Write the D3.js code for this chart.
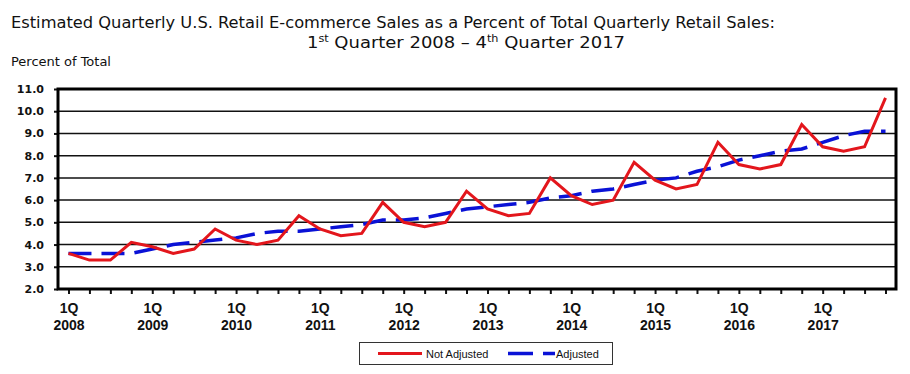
<!DOCTYPE html>
<html>
<head>
<meta charset="utf-8">
<script src="https://cdn.jsdelivr.net/npm/d3@7"></script>
<style>
  body { margin: 0; background: #fff; }
  svg { display: block; }
  .grid line { stroke: #111; stroke-width: 1.5; }
  .ytick { font-family: "DejaVu Sans", Verdana, sans-serif; font-weight: bold; font-size: 11px; fill: #111; }
  .xtick { font-family: "Liberation Sans", Arial, sans-serif; font-weight: bold; font-size: 14px; fill: #111; }
  .title { font-family: "DejaVu Sans Condensed", "DejaVu Sans", sans-serif; font-size: 16px; fill: #111; }
  .legend text { font-family: "Liberation Sans", Arial, sans-serif; font-size: 11px; fill: #111; }
</style>
</head>
<body>
<svg id="chart"></svg>
<script>
var width = 910,
    height = 374;

var years = ["2008", "2009", "2010", "2011", "2012", "2013", "2014", "2015", "2016", "2017"];
var quarters = ["1Q", "2Q", "3Q", "4Q"];

var notAdjusted = [
  3.6, 3.3, 3.3, 4.1,
  3.9, 3.6, 3.8, 4.7,
  4.2, 4.0, 4.2, 5.3,
  4.7, 4.4, 4.5, 5.9,
  5.0, 4.8, 5.0, 6.4,
  5.6, 5.3, 5.4, 7.0,
  6.2, 5.8, 6.0, 7.7,
  6.9, 6.5, 6.7, 8.6,
  7.6, 7.4, 7.6, 9.4,
  8.4, 8.2, 8.4, 10.6
];

var adjusted = [
  3.6, 3.6, 3.6, 3.6,
  3.8, 4.0, 4.1, 4.2,
  4.3, 4.5, 4.6, 4.6,
  4.7, 4.8, 4.9, 5.1,
  5.1, 5.2, 5.4, 5.6,
  5.7, 5.8, 5.9, 6.1,
  6.2, 6.4, 6.5, 6.7,
  6.9, 7.0, 7.3, 7.5,
  7.8, 8.0, 8.2, 8.3,
  8.6, 8.9, 9.1, 9.1
];

var yTicks = [2, 3, 4, 5, 6, 7, 8, 9, 10, 11];

var seriesNames = ["Not Adjusted", "Adjusted"];

// one entry per quarter
var categories = [];
years.forEach(function (yr) {
  quarters.forEach(function (q) {
    categories.push(q + " " + yr);
  });
});

var plot = {left: 58, right: 896, top: 89, bottom: 289};

var svg = d3.select("#chart")
    .attr("width", width)
    .attr("height", height);

var x = d3.scalePoint()
    .domain(categories)
    .range([plot.left, plot.right])
    .padding(0.5);

var y = d3.scaleLinear()
    .domain([2, 11])
    .range([plot.bottom, plot.top]);

// title
var t1 = svg.append("text")
    .attr("class", "title")
    .attr("x", 11)
    .attr("y", 28)
    .attr("textLength", 764)
    .attr("lengthAdjust", "spacingAndGlyphs")
    .text("Estimated Quarterly U.S. Retail E-commerce Sales as a Percent of Total Quarterly Retail Sales:");

var t2 = svg.append("text")
    .attr("class", "title")
    .attr("x", 307)
    .attr("y", 48)
    .attr("textLength", 318)
    .attr("lengthAdjust", "spacingAndGlyphs");
t2.append("tspan").text("1");
t2.append("tspan").attr("dy", -6).style("font-size", "10px").text("st");
t2.append("tspan").attr("dy", 6).text(" Quarter 2008 \u2013 4");
t2.append("tspan").attr("dy", -6).style("font-size", "10px").text("th");
t2.append("tspan").attr("dy", 6).text(" Quarter 2017");

svg.append("text")
    .attr("class", "title")
    .attr("x", 11)
    .attr("y", 66)
    .attr("textLength", 100)
    .attr("lengthAdjust", "spacingAndGlyphs")
    .style("font-size", "12.5px")
    .text("Percent of Total");

// gridlines
svg.append("g")
    .attr("class", "grid")
    .selectAll("line")
    .data(yTicks)
    .join("line")
    .attr("x1", plot.left)
    .attr("x2", plot.right)
    .attr("y1", d => y(d))
    .attr("y2", d => y(d));

// y labels
svg.append("g")
    .attr("transform", "translate(" + plot.left + ",0)")
    .call(d3.axisLeft(y).tickValues(yTicks).tickSize(4).tickFormat(d3.format(".1f")))
    .call(g => g.select(".domain").remove())
    .call(g => g.selectAll("line").attr("stroke", "#111").attr("stroke-width", 2))
    .call(g => g.selectAll("text").attr("class", "ytick").attr("x", -14).attr("fill", null));

// x axis ticks + labels
var xAxis = svg.append("g")
    .attr("transform", "translate(0," + plot.bottom + ")")
    .call(d3.axisBottom(x).tickSize(5).tickFormat(""))
    .call(g => g.select(".domain").remove())
    .call(g => g.selectAll("line").attr("stroke", "#111").attr("stroke-width", 2));

xAxis.selectAll(".tick")
    .filter(d => d.indexOf("1Q") === 0)
    .each(function (d) {
      var parts = d.split(" ");
      var txt = d3.select(this).select("text")
          .attr("class", "xtick")
          .attr("fill", null)
          .attr("y", 0)
          .attr("dy", null);
      txt.append("tspan").attr("x", 0).attr("y", 24).text(parts[0]);
      txt.append("tspan").attr("x", 0).attr("y", 41).text(parts[1]);
    });

// plot frame
svg.append("rect")
    .attr("x", plot.left)
    .attr("y", plot.top)
    .attr("width", plot.right - plot.left)
    .attr("height", plot.bottom - plot.top)
    .attr("fill", "none")
    .attr("stroke", "#000")
    .attr("stroke-width", 3);

var line = d3.line()
    .x((d, i) => x(categories[i]))
    .y(d => y(d));

svg.append("path")
    .attr("d", line(adjusted))
    .attr("fill", "none")
    .attr("stroke", "#0a12d6")
    .attr("stroke-width", 3.5)
    .attr("stroke-dasharray", "23,10");

svg.append("path")
    .attr("d", line(notAdjusted))
    .attr("fill", "none")
    .attr("stroke", "#e3161c")
    .attr("stroke-width", 3)
    .attr("stroke-linejoin", "miter");

// legend
var legend = svg.append("g")
    .attr("class", "legend");

legend.append("rect")
    .attr("x", 359.5)
    .attr("y", 342.5)
    .attr("width", 253)
    .attr("height", 22)
    .attr("fill", "#fff")
    .attr("stroke", "#333")
    .attr("stroke-width", 1);

legend.append("line")
    .attr("x1", 378).attr("x2", 422)
    .attr("y1", 353.5).attr("y2", 353.5)
    .attr("stroke", "#e3161c")
    .attr("stroke-width", 3);

legend.append("text")
    .attr("x", 426)
    .attr("y", 357.5)
    .text(seriesNames[0]);

legend.append("line")
    .attr("x1", 508).attr("x2", 555)
    .attr("y1", 353.5).attr("y2", 353.5)
    .attr("stroke", "#0a12d6")
    .attr("stroke-width", 3.5)
    .attr("stroke-dasharray", "25,10");

legend.append("text")
    .attr("x", 556)
    .attr("y", 357.5)
    .text(seriesNames[1]);
</script>
</body>
</html>
